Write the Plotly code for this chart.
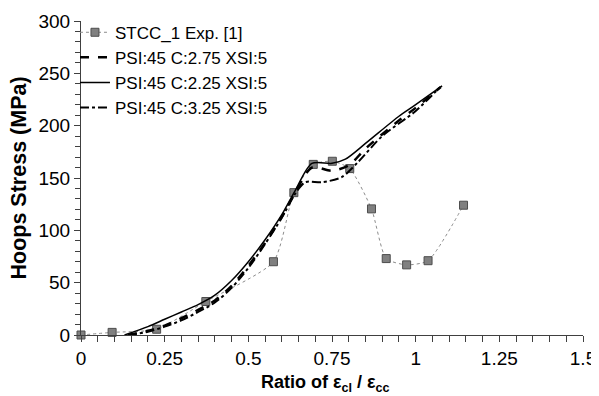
import plotly.graph_objects as go

# Experimental data
exp_x = [0.0, 0.093, 0.226, 0.373, 0.575, 0.636, 0.694, 0.751, 0.803, 0.868, 0.912, 0.973, 1.037, 1.143]
exp_y = [0, 2.5, 5.5, 32, 70, 136, 163, 166, 159, 120.5, 73, 67, 71, 124]

# PSI:45 C:2.75 XSI:5 (dashed)
c275_x = [0.14, 0.2, 0.25, 0.3, 0.35, 0.4, 0.45, 0.5, 0.55, 0.6, 0.64, 0.69, 0.75, 0.8, 0.85, 0.95, 1.0, 1.075]
c275_y = [0, 4, 9, 16, 24, 33, 47, 66, 88, 113, 136, 160, 157, 162, 178, 205, 217, 237]

# PSI:45 C:2.25 XSI:5 (solid)
c225_x = [0.13, 0.2, 0.25, 0.3, 0.35, 0.4, 0.45, 0.5, 0.55, 0.6, 0.64, 0.69, 0.75, 0.79, 0.85, 0.95, 1.0, 1.079]
c225_y = [0, 8, 15, 22, 29, 38, 52, 70, 91, 115, 138, 164, 164, 168, 183, 209, 220, 238]

# PSI:45 C:3.25 XSI:5 (dash-dot)
c325_x = [0.14, 0.2, 0.25, 0.3, 0.35, 0.4, 0.45, 0.5, 0.55, 0.6, 0.64, 0.67, 0.72, 0.78, 0.83, 0.9, 1.0, 1.07]
c325_y = [0, 3, 8, 14, 22, 31, 45, 64, 87, 112, 135, 146, 146, 151, 166, 190, 214, 236]

x_ticks = [0, 0.25, 0.5, 0.75, 1, 1.25, 1.5]
x_ticklabels = ["0", "0.25", "0.5", "0.75", "1", "1.25", "1.5"]
y_ticks = [0, 50, 100, 150, 200, 250, 300]

FONT = "Arial, Liberation Sans, sans-serif"

fig = go.Figure()
fig.add_trace(go.Scatter(
    x=exp_x, y=exp_y, name="STCC_1 Exp. [1]", mode="lines+markers",
    line=dict(color="#8c8c8c", width=1, dash="dot", shape="spline", smoothing=0.6),
    marker=dict(symbol="square", size=8, color="#808080", line=dict(color="#4d4d4d", width=1)),
    cliponaxis=False))
fig.add_trace(go.Scatter(
    x=c275_x, y=c275_y, name="PSI:45 C:2.75 XSI:5", mode="lines",
    line=dict(color="black", width=2.5, dash="dash", shape="spline", smoothing=0.8)))
fig.add_trace(go.Scatter(
    x=c225_x, y=c225_y, name="PSI:45 C:2.25 XSI:5", mode="lines",
    line=dict(color="black", width=1.5, shape="spline", smoothing=0.8)))
fig.add_trace(go.Scatter(
    x=c325_x, y=c325_y, name="PSI:45 C:3.25 XSI:5", mode="lines",
    line=dict(color="black", width=2, dash="dashdot", shape="spline", smoothing=0.8)))

fig.update_layout(
    width=591, height=388,
    margin=dict(l=73, r=16, t=13, b=61, autoexpand=False),
    paper_bgcolor="white", plot_bgcolor="white",
    font=dict(family=FONT, color="black"),
    showlegend=True,
    legend=dict(x=-0.012, y=1.02, xanchor="left", yanchor="top",
                bgcolor="rgba(0,0,0,0)", font=dict(size=17, family=FONT),
                itemwidth=30, tracegroupgap=0),
    xaxis=dict(range=[0, 1.5], tickvals=x_ticks, ticktext=x_ticklabels, automargin=False,
               showgrid=False, zeroline=False, showline=True, linecolor="#404040", linewidth=1,
               ticks="outside", ticklen=6, tickcolor="#404040", tickfont=dict(size=19),
               minor=dict(dtick=0.05, ticks="outside", ticklen=6, tickcolor="#404040")),
    yaxis=dict(range=[0, 300], tickvals=y_ticks, automargin=False,
               showgrid=False, zeroline=False, showline=True, linecolor="#404040", linewidth=1,
               ticks="outside", ticklen=6, tickcolor="#404040", tickfont=dict(size=19),
               minor=dict(dtick=10, ticks="outside", ticklen=5, tickcolor="#404040")),
    annotations=[
        dict(text="<b>Ratio of ε<sub>cl</sub> / ε<sub>cc</sub></b>", xref="paper", yref="paper",
             x=0.487, y=-0.113, xanchor="center", yanchor="top", showarrow=False,
             font=dict(size=18, family=FONT)),
        dict(text="<b>Hoops Stress (MPa)</b>", xref="paper", yref="paper",
             x=-0.1245, y=0.5, xanchor="center", yanchor="middle", textangle=-90, showarrow=False,
             font=dict(size=21.5, family=FONT)),
    ],
)

fig.write_html("out.html")
